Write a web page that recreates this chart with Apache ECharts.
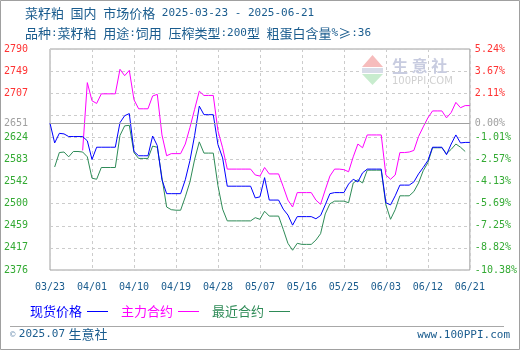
<!DOCTYPE html>
<html>
<head>
<meta charset="utf-8">
<script src="https://cdn.jsdelivr.net/npm/echarts@6/dist/echarts.min.js"></script>
<style>
  html, body { margin: 0; padding: 0; background: #fff; }
  #chart { width: 520px; height: 350px; }
</style>
</head>
<body>
<div id="chart"></div>
<script>
// Daily dates, 2025-03-23 .. 2025-06-21
const dates = [
  '03/23','03/24','03/25','03/26','03/27','03/28','03/29','03/30','03/31',
  '04/01','04/02','04/03','04/04','04/05','04/06','04/07','04/08','04/09','04/10',
  '04/11','04/12','04/13','04/14','04/15','04/16','04/17','04/18','04/19','04/20',
  '04/21','04/22','04/23','04/24','04/25','04/26','04/27','04/28','04/29','04/30',
  '05/01','05/02','05/03','05/04','05/05','05/06','05/07','05/08','05/09','05/10',
  '05/11','05/12','05/13','05/14','05/15','05/16','05/17','05/18','05/19','05/20',
  '05/21','05/22','05/23','05/24','05/25','05/26','05/27','05/28','05/29','05/30','05/31',
  '06/01','06/02','06/03','06/04','06/05','06/06','06/07','06/08','06/09','06/10',
  '06/11','06/12','06/13','06/14','06/15','06/16','06/17','06/18','06/19','06/20','06/21'
];

// 现货价格 (元/吨)
const spotPrice = [
  2651, 2614, 2632, 2631, 2626, 2626, 2626, 2626, 2618,
  2583, 2606, 2606, 2606, 2606, 2606, 2652, 2665, 2669, 2598,
  2590, 2590, 2590, 2627, 2609, 2545, 2519, 2519, 2519, 2519,
  2545, 2581, 2628, 2683, 2667, 2667, 2667, 2611, 2586, 2533,
  2533, 2533, 2533, 2533, 2533, 2511, 2513, 2549, 2507, 2507,
  2507, 2490, 2479, 2460, 2476, 2476, 2476, 2476, 2472, 2478,
  2498, 2519, 2521, 2521, 2521, 2537, 2546, 2541, 2558, 2565, 2565,
  2565, 2565, 2502, 2498, 2515, 2535, 2535, 2535, 2541, 2556,
  2568, 2581, 2606, 2606, 2606, 2592, 2612, 2629, 2614, 2615, 2615
];

// 主力合约
const mainContract = [
  null, null, null, null, null, null, null, 2600, 2727,
  2693, 2688, 2706, 2706, 2706, 2706, 2752, 2740, 2750, 2695,
  2678, 2678, 2678, 2702, 2705, 2629, 2590, 2594, 2594, 2594,
  2612, 2643, 2677, 2711, 2703, 2703, 2703, 2637, 2605, 2565,
  2565, 2565, 2565, 2565, 2565, 2554, 2552, 2568, 2556, 2556,
  2556, 2532, 2507, 2494, 2521, 2521, 2521, 2521, 2507, 2499,
  2526, 2552, 2565, 2565, 2564, 2560, 2588, 2612, 2605, 2629, 2629,
  2629, 2629, 2554, 2546, 2554, 2596, 2596, 2597, 2600, 2626,
  2644, 2661, 2674, 2674, 2674, 2661, 2671, 2690, 2680, 2684, 2684
];

// 最近合约
const nearContract = [
  null, 2569, 2596, 2597, 2588, 2598, 2598, 2597, 2588,
  2548, 2546, 2568, 2568, 2568, 2568, 2628, 2646, 2647, 2596,
  2585, 2585, 2585, 2608, 2606, 2549, 2494, 2489, 2488, 2488,
  2513, 2541, 2583, 2616, 2595, 2595, 2595, 2534, 2490, 2468,
  2468, 2468, 2468, 2468, 2468, 2474, 2471, 2486, 2477, 2477,
  2477, 2452, 2426, 2413, 2426, 2424, 2424, 2424, 2432, 2444,
  2481, 2500, 2505, 2505, 2505, 2502, 2539, 2545, 2539, 2563, 2563,
  2563, 2563, 2498, 2471, 2489, 2515, 2515, 2515, 2523, 2539,
  2562, 2577, 2605, 2605, 2605, 2594, 2602, 2612, 2606, 2598, null
];

// Price axis: reference price and tick positions
const basePrice = 2651;
const axisMin = 2376;
const axisMax = 2790;
const gridValues = [2376, 2417.4, 2458.8, 2500.2, 2541.6, 2583, 2624.4, 2665.8, 2707.2, 2748.6, 2790];
const labelValues = [2376, 2417.4, 2458.8, 2500.2, 2541.6, 2583, 2624.4, 2651, 2707.2, 2748.6, 2790];
const priceLabels = ['2376', '2417', '2459', '2500', '2542', '2583', '2624', '2651', '2707', '2749', '2790'];
const changeLabels = ['-10.38%', '-8.82%', '-7.25%', '-5.69%', '-4.13%', '-2.57%', '-1.01%', '0.00%', '2.11%', '3.67%', '5.24%'];

const seriesNames = ['现货价格', '主力合约', '最近合约'];
const seriesColors = ['#0000ff', '#ff00ff', '#2e8b57'];

const MONO = '"DejaVu Sans Mono", "Liberation Mono", monospace';
const CJK = '"Noto Sans CJK SC", sans-serif';
const INK = '#1a5c8e';

function tickFormatter(labels) {
  return function (value) {
    const i = labelValues.findIndex(v => Math.abs(v - value) < 0.01);
    if (i < 0) return '';
    const key = value > basePrice + 0.01 ? 'up' : (value < basePrice - 0.01 ? 'down' : 'flat');
    return '{' + key + '|' + labels[i] + '}';
  };
}

const labelRich = {
  up:   { color: '#ff3333', fontFamily: MONO, fontSize: 10 },
  down: { color: '#33aa33', fontFamily: MONO, fontSize: 10 },
  flat: { color: '#a0a0a0', fontFamily: MONO, fontSize: 10 }
};

const chart = echarts.init(document.getElementById('chart'), null, { renderer: 'canvas' });

chart.setOption({
  animation: false,
  backgroundColor: '#ffffff',
  grid: {
    left: 50, right: 50, top: 49, bottom: 80,
    show: true, borderColor: '#a0a0a0', borderWidth: 1
  },
  xAxis: {
    type: 'category',
    data: dates,
    boundaryGap: false,
    axisLine: { show: false },
    axisTick: { show: false },
    axisLabel: {
      interval: 8, margin: 12,
      color: INK, fontFamily: MONO, fontSize: 10
    },
    splitLine: {
      show: true, interval: 8,
      lineStyle: { color: '#cccccc', type: [3, 3], width: 1 }
    }
  },
  yAxis: [
    {
      type: 'value', min: axisMin, max: axisMax, position: 'left',
      axisLine: { show: false },
      axisTick: { show: false, customValues: gridValues },
      axisLabel: {
        customValues: labelValues, margin: 22,
        formatter: tickFormatter(priceLabels), rich: labelRich
      },
      splitLine: { show: true, lineStyle: { color: '#cccccc', type: [3, 3], width: 1 } }
    },
    {
      type: 'value', min: axisMin, max: axisMax, position: 'right',
      axisLine: { show: false },
      axisTick: { show: false, customValues: gridValues },
      axisLabel: {
        customValues: labelValues, margin: 5, align: 'left',
        formatter: tickFormatter(changeLabels), rich: labelRich
      },
      splitLine: { show: false }
    }
  ],
  legend: {
    left: 25, top: 300,
    align: 'right',
    icon: 'rect', itemWidth: 21, itemHeight: 1, itemGap: 13,
    textStyle: { fontFamily: CJK, fontSize: 13 },
    data: seriesNames.map((n, i) => ({ name: n, textStyle: { color: seriesColors[i] } })),
    selectedMode: false
  },
  series: [
    {
      name: seriesNames[0], type: 'line', data: spotPrice, yAxisIndex: 0,
      showSymbol: false, connectNulls: false, z: 4,
      lineStyle: { color: seriesColors[0], width: 1 }, itemStyle: { color: seriesColors[0] },
      markLine: {
        silent: true, symbol: 'none', label: { show: false },
        lineStyle: { color: '#a0a0a0', type: 'solid', width: 1 },
        data: [{ yAxis: basePrice }]
      }
    },
    {
      name: seriesNames[1], type: 'line', data: mainContract, yAxisIndex: 0,
      showSymbol: false, z: 3,
      lineStyle: { color: seriesColors[1], width: 1 }, itemStyle: { color: seriesColors[1] }
    },
    {
      name: seriesNames[2], type: 'line', data: nearContract, yAxisIndex: 0,
      showSymbol: false, z: 2,
      lineStyle: { color: seriesColors[2], width: 1 }, itemStyle: { color: seriesColors[2] }
    }
  ],
  graphic: [
    // outer frame
    {
      type: 'rect', silent: true, z: 0,
      shape: { x: 0.5, y: 0.5, width: 519, height: 349 },
      style: { fill: null, stroke: '#a0a0a0', lineWidth: 1 }
    },
    // heading
    {
      type: 'text', left: 25, top: 7, silent: true,
      style: {
        text: '{c|菜籽粕}{m| }{c|国内}{m| }{c|市场价格}{m| 2025-03-23 - 2025-06-21}',
        rich: {
          c: { fontFamily: CJK, fontSize: 13, fill: INK },
          m: { fontFamily: MONO, fontSize: 11, fill: INK }
        }
      }
    },
    {
      type: 'text', left: 25, top: 27, silent: true,
      style: {
        text: '{c|品种}{m|:}{c|菜籽粕}{m| }{c|用途}{m|:}{c|饲用}{m| }{c|压榨类型}{m|:200}{c|型}{m| }{c|粗蛋白含量}{m|%}{c|≥}{m|:36}',
        rich: {
          c: { fontFamily: CJK, fontSize: 13, fill: INK },
          m: { fontFamily: MONO, fontSize: 11, fill: INK }
        }
      }
    },
    // watermark logo
    {
      type: 'polygon', silent: true, z: 1,
      shape: { points: [[362, 67], [383, 67], [372.5, 55]] },
      style: { fill: '#f6bcbc' }
    },
    {
      type: 'rect', silent: true, z: 1,
      shape: { x: 362, y: 68, width: 21, height: 5 },
      style: { fill: '#d8dce8' }
    },
    {
      type: 'polygon', silent: true, z: 1,
      shape: { points: [[362, 74], [383, 74], [372.5, 85]] },
      style: { fill: '#c8ecce' }
    },
    {
      type: 'text', x: 392, y: 66, silent: true, z: 1,
      style: {
        text: '生 意 社', fontFamily: CJK, fontSize: 16, fontWeight: 'bold',
        fill: '#c8cce0', verticalAlign: 'middle'
      }
    },
    {
      type: 'text', x: 392, y: 81, silent: true, z: 1,
      style: {
        text: '100PPI.COM', fontFamily: '"DejaVu Sans", sans-serif', fontSize: 10,
        fill: '#d0d0d0', verticalAlign: 'middle'
      }
    },
    // footer
    {
      type: 'line', silent: true,
      shape: { x1: 10, y1: 326.5, x2: 504, y2: 326.5 },
      style: { stroke: '#a8a8a8', lineWidth: 1 }
    },
    {
      type: 'text', left: 10, top: 328, silent: true,
      style: {
        text: '{s|©} {m|2025.07} {c|生意社}',
        rich: {
          s: { fontFamily: MONO, fontSize: 9, fill: '#7a9ab8' },
          m: { fontFamily: MONO, fontSize: 11, fill: INK },
          c: { fontFamily: CJK, fontSize: 13, fill: INK }
        }
      }
    },
    {
      type: 'text', right: 10, top: 330, silent: true,
      style: { text: 'www.100PPI.com', fontFamily: MONO, fontSize: 11, fill: INK }
    }
  ]
});
</script>
</body>
</html>
